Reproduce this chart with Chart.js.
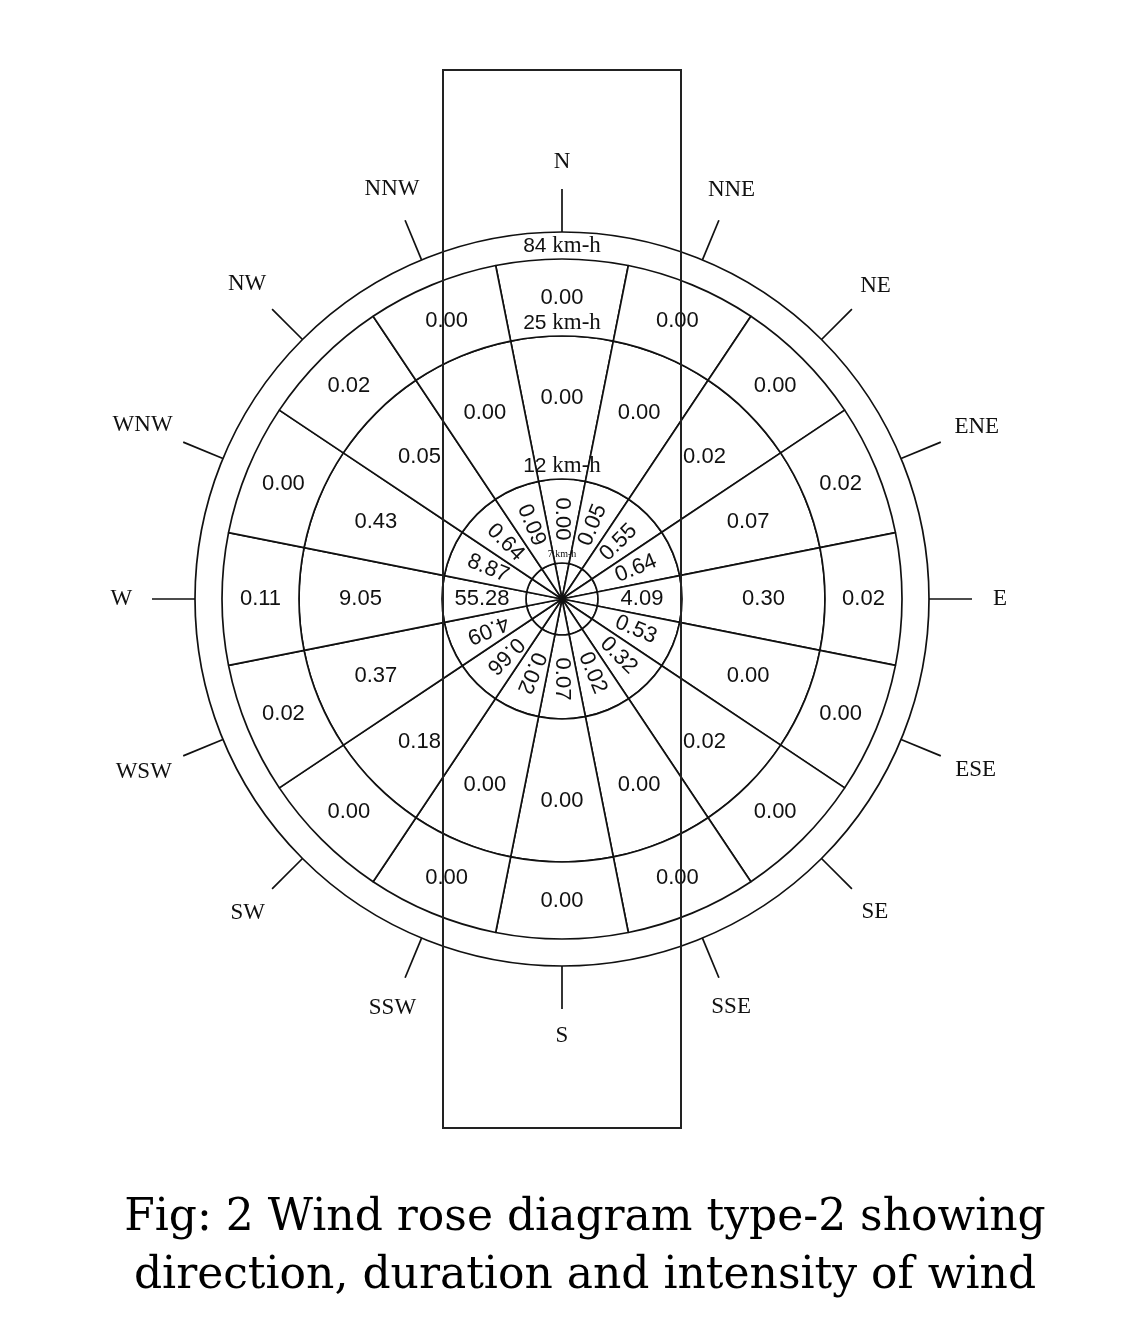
<!DOCTYPE html>
<html>
<head>
<meta charset="utf-8">
<script src="https://cdn.jsdelivr.net/npm/chart.js@4.4.1/dist/chart.umd.min.js"></script>
<style>
  html, body { margin: 0; padding: 0; background: #fff; }
  #wrap { position: relative; width: 1124px; height: 1320px; }
  #caption {
    position: absolute; left: 0; top: 1186px; width: 1170px;
    text-align: center; color: #000;
    font-family: "DejaVu Serif", serif; font-size: 44px; line-height: 58px;
  }
</style>
</head>
<body>
<div id="wrap">
  <canvas id="rose" width="1124" height="1320"></canvas>
  <div id="caption">Fig: 2 Wind rose diagram type-2 showing<br>direction, duration and intensity of wind</div>
</div>
<script>
// 16 compass directions, clockwise from north
const directions = ['N', 'NNE', 'NE', 'ENE', 'E', 'ESE', 'SE', 'SSE', 'S', 'SSW', 'SW', 'WSW', 'W', 'WNW', 'NW', 'NNW'];
// speed class limits (km-h), inner to outer
const speedClasses = ['7', '12', '25', '84'];
// percentage of time per direction for each speed ring
const ring12 = [0.00, 0.05, 0.55, 0.64, 4.09, 0.53, 0.32, 0.02, 0.07, 0.02, 0.66, 4.09, 55.28, 8.87, 0.64, 0.09];
const ring25 = [0.00, 0.00, 0.02, 0.07, 0.30, 0.00, 0.02, 0.00, 0.00, 0.00, 0.18, 0.37, 9.05, 0.43, 0.05, 0.00];
const ring84 = [0.00, 0.00, 0.00, 0.02, 0.02, 0.00, 0.00, 0.00, 0.00, 0.00, 0.00, 0.02, 0.11, 0.00, 0.02, 0.00];

// every direction gets an equal sector
const sectors = directions.map(() => 1);

const fontSans = '"Liberation Sans", Arial, sans-serif';
const fontSerif = '"Liberation Serif", "Times New Roman", serif';
const ink = '#111';

function ring(weight, width) {
    return {
        data: sectors,
        weight: weight,
        backgroundColor: width ? '#fff' : 'rgba(0,0,0,0)',
        borderColor: ink,
        borderWidth: width
    };
}

function midAngle(arc) {
    return (arc.startAngle + arc.endAngle) / 2;
}

function drawSpeed(ctx, num, x, y, numFont, unitFont) {
    ctx.font = numFont;
    const w1 = ctx.measureText(num + ' ').width;
    ctx.font = unitFont;
    const w2 = ctx.measureText('km-h').width;
    const left = x - (w1 + w2) / 2;
    ctx.textAlign = 'left';
    ctx.font = numFont;
    ctx.fillText(num + ' ', left, y);
    ctx.font = unitFont;
    ctx.fillText('km-h', left + w1, y);
    ctx.textAlign = 'center';
}

const roseDecor = {
    id: 'roseDecor',
    afterDatasetsDraw(chart) {
        const ctx = chart.ctx;
        const frame = chart.getDatasetMeta(0).data[0];
        const cx = frame.x, cy = frame.y;
        const R = frame.outerRadius;

        ctx.save();
        ctx.strokeStyle = ink;
        ctx.fillStyle = ink;
        ctx.lineWidth = 1.7;

        // outer frame circle
        ctx.beginPath();
        ctx.arc(cx, cy, R, 0, Math.PI * 2);
        ctx.stroke();

        ctx.textAlign = 'center';
        ctx.textBaseline = 'middle';

        // horizontal labels in the 84 and 25 rings
        ctx.font = '22px ' + fontSans;
        [[1, ring84, 0.5], [2, ring25, 0.57]].forEach(function (item) {
            const vals = item[1], f = item[2];
            chart.getDatasetMeta(item[0]).data.forEach(function (arc, i) {
                const a = midAngle(arc);
                const r = arc.innerRadius + f * (arc.outerRadius - arc.innerRadius);
                ctx.fillText(vals[i].toFixed(2), cx + r * Math.cos(a), cy + r * Math.sin(a));
            });
        });

        // radial labels in the 12 ring
        chart.getDatasetMeta(3).data.forEach(function (arc, i) {
            const a = midAngle(arc);
            const r = (arc.innerRadius + arc.outerRadius) / 2 + 2;
            const outward = i >= 1 && i <= 11;
            ctx.save();
            ctx.translate(cx + r * Math.cos(a), cy + r * Math.sin(a));
            ctx.rotate(outward ? a : a + Math.PI);
            ctx.fillText(ring12[i].toFixed(2), 0, 0);
            ctx.restore();
        });

        // speed class captions above each ring edge
        const metaFor = {'84': 1, '25': 2, '12': 3, '7': 4};
        speedClasses.forEach(function (s) {
            const arc = chart.getDatasetMeta(metaFor[s]).data[0];
            if (s === '7') {
                ctx.font = '10px ' + fontSerif;
                ctx.fillText('7 km-h', cx, cy - arc.outerRadius - 9);
            } else {
                drawSpeed(ctx, s, cx, cy - arc.outerRadius - 13, '21px ' + fontSans, '23px ' + fontSerif);
            }
        });

        // direction ticks and names
        ctx.font = '23px ' + fontSerif;
        chart.getDatasetMeta(1).data.forEach(function (arc, i) {
            const a = midAngle(arc);
            const c = Math.cos(a), s = Math.sin(a);
            ctx.beginPath();
            ctx.moveTo(cx + R * c, cy + R * s);
            ctx.lineTo(cx + (R + 43) * c, cy + (R + 43) * s);
            ctx.stroke();
            const w = ctx.measureText(directions[i]).width;
            const r = R + 66 + Math.abs(c) * w * 0.35 + Math.abs(s) * 4;
            ctx.fillText(directions[i], cx + r * c, cy + r * s);
        });

        // overlay frame box
        ctx.strokeStyle = '#222';
        ctx.lineWidth = 2;
        ctx.strokeRect(443, 70, 238, 1058);
        ctx.restore();
    }
};

new Chart(document.getElementById('rose'), {
    type: 'doughnut',
    data: {
        labels: directions,
        datasets: [
            ring(27, 0),    // frame ring
            ring(77, 1.7),  // 84 km-h
            ring(143, 1.7), // 25 km-h
            ring(84, 1.7),  // 12 km-h
            ring(36, 1.7)   // 7 km-h
        ]
    },
    options: {
        responsive: false,
        animation: false,
        events: [],
        devicePixelRatio: 1,
        cutout: 0,
        radius: 367,
        rotation: -11.25,
        layout: { padding: { left: 195, right: 195, top: 232, bottom: 354 } },
        plugins: {
            legend: { display: false },
            tooltip: { enabled: false }
        }
    },
    plugins: [roseDecor]
});
</script>
</body>
</html>
